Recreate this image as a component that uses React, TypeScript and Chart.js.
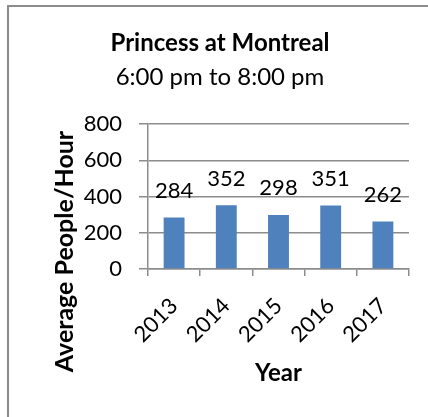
import React, { useEffect, useRef } from 'react';
import { Chart, registerables } from 'chart.js';

Chart.register(...registerables);

const categories = ['2013', '2014', '2015', '2016', '2017'];
const values = [284, 352, 298, 351, 262];
const yMin = 0;
const yMax = 800;
const yStep = 200;
const titleText = 'Princess at Montreal';
const subtitleText = '6:00 pm to 8:00 pm';
const yAxisTitle = 'Average People/Hour';
const xAxisTitle = 'Year';

const FONT = 'Lato, "Open Sans", sans-serif';
const GRID = '#8c8c8c';
const BAR = '#4F81BD';

const valueLabels = {
  id: 'valueLabels',
  afterDatasetsDraw(chart: any) {
    const ctx = chart.ctx;
    const meta = chart.getDatasetMeta(0);
    ctx.save();
    ctx.font = `22px ${FONT}`;
    ctx.fillStyle = '#000';
    ctx.textAlign = 'center';
    ctx.textBaseline = 'alphabetic';
    meta.data.forEach((el: any, i: number) => {
      ctx.fillText(String(values[i]), el.x, el.y - 19.5);
    });
    ctx.restore();
  },
};

const yTitlePlugin = {
  id: 'yTitle',
  afterDraw(chart: any) {
    const { ctx, chartArea } = chart;
    ctx.save();
    ctx.font = `bold 25px ${FONT}`;
    ctx.fillStyle = '#000';
    ctx.textAlign = 'center';
    ctx.textBaseline = 'alphabetic';
    ctx.translate(chartArea.left - 75.5, chartArea.bottom - 17.5);
    ctx.rotate(-Math.PI / 2);
    ctx.fillText(yAxisTitle, 0, 0);
    ctx.restore();
  },
};

export default function App() {
  const canvasRef = useRef<HTMLCanvasElement | null>(null);

  useEffect(() => {
    if (!canvasRef.current) return;
    const chart = new Chart(canvasRef.current, {
      type: 'bar',
      data: {
        labels: categories,
        datasets: [
          {
            data: values,
            backgroundColor: BAR,
            borderWidth: 0,
            categoryPercentage: 1,
            barPercentage: 0.4,
          },
        ],
      },
      plugins: [valueLabels, yTitlePlugin],
      options: {
        animation: false,
        responsive: false,
        maintainAspectRatio: false,
        layout: { padding: { left: 31, right: 19, top: 0, bottom: 0 } },
        plugins: {
          legend: { display: false },
          tooltip: { enabled: false },
          title: {
            display: true,
            text: titleText,
            color: '#000',
            font: { family: FONT, size: 24, weight: 'bold' },
            padding: { top: 28.6, bottom: 0 },
          },
          subtitle: {
            display: true,
            text: subtitleText,
            color: '#000',
            font: { family: FONT, size: 24, weight: 'normal' },
            padding: { top: 5.2, bottom: 32.6 },
          },
        },
        scales: {
          x: {
            type: 'category',
            grid: {
              display: true,
              drawOnChartArea: false,
              drawTicks: true,
              tickLength: 7,
              color: GRID,
              lineWidth: 1.5,
              offset: true,
            },
            border: { display: true, color: GRID, width: 1.5 },
            ticks: {
              minRotation: 45,
              maxRotation: 45,
              autoSkip: false,
              padding: 17,
              color: '#000',
              font: { family: FONT, size: 22 },
            },
            title: {
              display: true,
              text: xAxisTitle,
              color: '#000',
              font: { family: FONT, size: 24, weight: 'bold' },
              padding: { top: 0, bottom: 29.6 },
            },
            afterFit: (s: any) => {
              s.height = 148;
            },
          },
          y: {
            min: yMin,
            max: yMax,
            grid: {
              color: GRID,
              lineWidth: 1.5,
              drawTicks: true,
              tickLength: 9,
            },
            border: { display: true, color: GRID, width: 1.5 },
            ticks: {
              stepSize: yStep,
              padding: 17,
              color: '#000',
              font: { family: FONT, size: 22 },
            },
            afterFit: (s: any) => {
              s.width = 117;
            },
          },
        },
      },
    } as any);
    return () => chart.destroy();
  }, []);

  return (
    <div
      style={{
        position: 'fixed',
        left: 0,
        top: 0,
        width: 428,
        height: 417,
        overflow: 'hidden',
        background: '#fff',
      }}
    >
      <div
        style={{
          position: 'absolute',
          left: 7,
          top: 5,
          width: 480,
          height: 480,
          borderLeft: `2px solid ${GRID}`,
          borderTop: `2px solid ${GRID}`,
          boxSizing: 'border-box',
        }}
      />
      <canvas
        ref={canvasRef}
        width={428}
        height={417}
        style={{ position: 'absolute', left: 0, top: 0, width: 428, height: 417 }}
      />
    </div>
  );
}
